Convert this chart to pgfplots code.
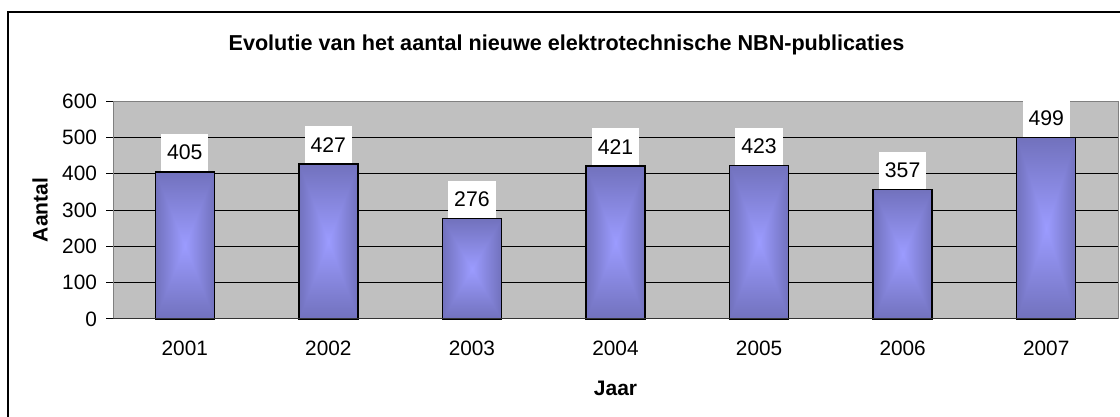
\documentclass[border=0pt]{standalone}
\usepackage{pgfplots}
\pgfplotsset{compat=1.18}
\usepackage{fontspec}
\setmainfont{Liberation Sans}
\definecolor{plotgray}{RGB}{192,192,192}
\definecolor{framegray}{RGB}{128,128,128}
% box gradient: light in the middle, dark towards all four edges
\pgfdeclarefunctionalshading{barbox}{\pgfpointorigin}{\pgfpoint{100bp}{100bp}}{}{
  50 sub abs 50 div exch 50 sub abs 50 div
  2 copy lt {exch} if pop
  dup -0.33 mul 0.61 add exch
  dup -0.33 mul 0.61 add exch
  -0.52 mul 1.0 add
}
\pgfplotsset{gradbar/.style={ybar,bar width=29.5pt,draw=black,line width=0.75pt,shade,shading=barbox}}
\begin{document}
\begin{tikzpicture}
\useasboundingbox (0,0) rectangle (560pt,208.5pt);
\draw[line width=0.8pt] (4pt,0) -- (4pt,202.5pt) -- (560pt,202.5pt);
\node[font=\fontsize{10.8}{13}\selectfont\bfseries] at (283.25pt,186pt)
  {Evolutie van het aantal nieuwe elektrotechnische NBN-publicaties};
\node[font=\fontsize{10.5}{12}\selectfont\bfseries,rotate=90] at (20pt,103.5pt) {Aantal};
\node[font=\fontsize{10.5}{12}\selectfont\bfseries] at (307.75pt,14.5pt) {Jaar};
\begin{axis}[
  at={(56.5pt,49pt)},anchor=south west,
  width=502.5pt,height=109pt,scale only axis,
  xmin=-0.5,xmax=6.5,ymin=0,ymax=600,
  xtick={0,...,6},xticklabels={2001,2002,2003,2004,2005,2006,2007},
  ytick={0,100,...,600},
  x tick style={draw=none},
  extra x ticks={-0.5,0.5,...,6.5},extra x tick labels={},
  extra x tick style={major tick length=3pt,tick style={draw=black,line width=0.5pt},tick align=outside},
  ytick pos=left,tick align=outside,major tick length=3.5pt,
  y tick style={black,line width=0.5pt},
  ymajorgrids,grid style={black,line width=0.5pt},
  axis line style={framegray,line width=0.5pt},
  axis background/.style={fill=plotgray},
  tick label style={font=\fontsize{10.4}{12}\selectfont},
  /pgf/number format/assume math mode=true,
  xticklabel style={yshift=-4pt},
  yticklabel style={xshift=-1pt},
  clip=false,
  nodes near coords,
  every node near coord/.append style={font=\fontsize{10.6}{12}\selectfont,
    fill=white,inner xsep=3pt,inner ysep=5.5pt,minimum height=18.5pt,anchor=south,yshift=0pt},
]
\addplot[gradbar] coordinates {(0,405)};
\addplot[gradbar] coordinates {(1,427)};
\addplot[gradbar] coordinates {(2,276)};
\addplot[gradbar] coordinates {(3,421)};
\addplot[gradbar] coordinates {(4,423)};
\addplot[gradbar] coordinates {(5,357)};
\addplot[gradbar] coordinates {(6,499)};
\draw[black!80,line width=0.5pt] (axis cs:-0.5,0) -- (axis cs:6.5,0);
\end{axis}
\end{tikzpicture}
\end{document}
